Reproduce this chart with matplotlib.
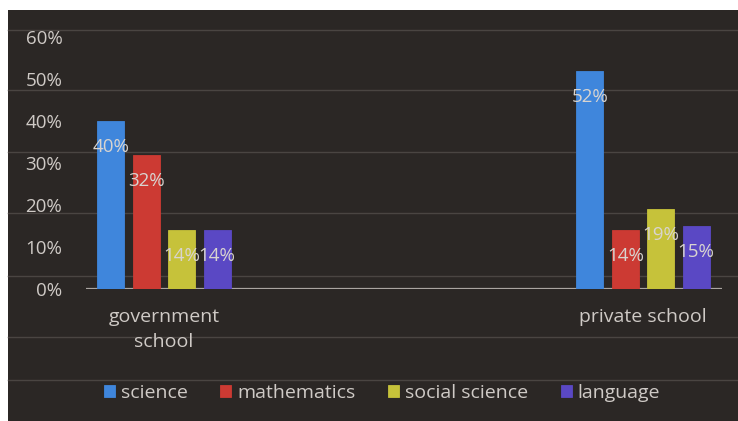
import matplotlib.pyplot as plt
from matplotlib.lines import Line2D
from matplotlib.patches import Rectangle
import numpy as np

# --- data ---
schools = ['government\nschool', 'private school']
subjects = ['science', 'mathematics', 'social science', 'language']
science = [40, 52]
mathematics = [32, 14]
social_science = [14, 19]
language = [14, 15]
y_ticks = [0, 10, 20, 30, 40, 50, 60]

series = [science, mathematics, social_science, language]
colors = ['#3f86dc', '#cc3a33', '#c6c23a', '#5a48c4']
bg = '#2b2725'
txt = '#cfcac6'

plt.rcParams['font.family'] = ['Open Sans', 'DejaVu Sans']

fig = plt.figure(figsize=(7.38, 4.21), dpi=100, facecolor='white')

# dark slide background with faint ruled lines
fig.add_artist(Rectangle((8 / 738, 0), 1, 1 - 10 / 421, transform=fig.transFigure,
                         facecolor=bg, edgecolor='none', zorder=0))
for py in [30, 90, 152, 213, 276, 337, 380]:
    yf = 1 - py / 421
    fig.add_artist(Line2D([8 / 738, 1], [yf, yf], transform=fig.transFigure,
                          color='#4a4542', lw=1.0, zorder=0.5))

ax = fig.add_axes([0.1165, 0.3135, 0.8618, 0.5986])
ax.set_zorder(2)
ax.set_facecolor('none')

x = np.arange(len(schools))
step = 0.074
width = 0.056
for i, (vals, c) in enumerate(zip(series, colors)):
    pos = x + (i - 1.5) * step
    ax.bar(pos, vals, width=width, color=c, edgecolor=c, linewidth=0.6,
           label=subjects[i], zorder=3)
    for xp, v in zip(pos, vals):
        ax.annotate(f'{v}%', (xp, v), xytext=(0, -26), textcoords='offset pixels',
                    ha='center', va='center', color='#d8d4d0', fontsize=13.5, zorder=4)

ax.set_xlim(-0.163, 1.165)
ax.set_ylim(0, 60)
ax.set_yticks(y_ticks)
ax.set_yticklabels([f'{t}%' for t in y_ticks])
ax.set_xticks(x)
ax.set_xticklabels(schools, fontsize=14, color=txt, linespacing=1.45)
ax.tick_params(axis='y', length=0, labelsize=13.5, labelcolor=txt, pad=17)
ax.tick_params(axis='x', length=0, pad=14)
for s in ax.spines.values():
    s.set_visible(False)
ax.axhline(0, color='#aaa5a1', lw=1.6, zorder=2)

leg = fig.legend(loc='center', bbox_to_anchor=(382 / 738, 1 - 393 / 421), ncol=4,
                 frameon=False, fontsize=14, labelcolor=txt, handlelength=0.55,
                 handleheight=0.55, handletextpad=0.3, columnspacing=1.7)

fig.savefig('out.png', dpi=100, facecolor='white')
